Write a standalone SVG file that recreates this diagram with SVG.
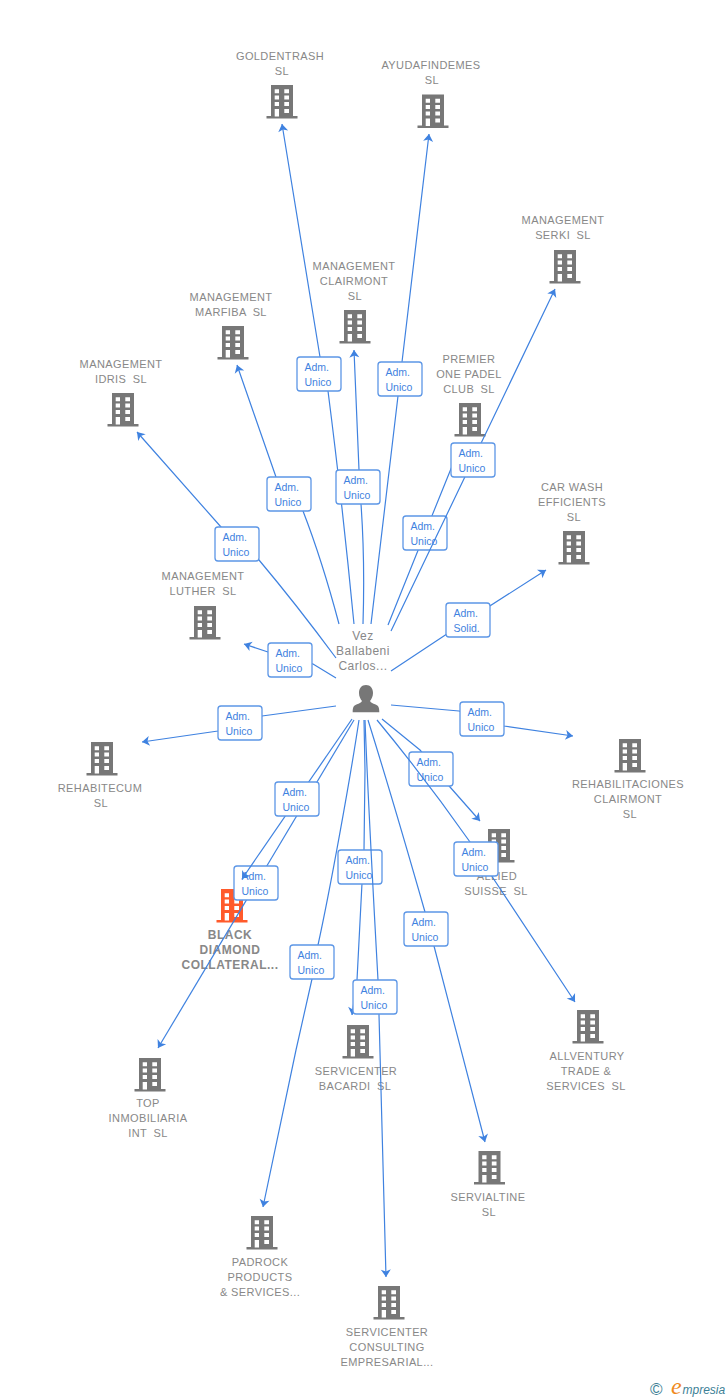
<svg xmlns="http://www.w3.org/2000/svg" width="728" height="1400" viewBox="0 0 728 1400">
<style>
text{font-family:"Liberation Sans",Arial,sans-serif}
.n{font-size:11px;fill:#888;text-anchor:middle;letter-spacing:.4px}
.d{word-spacing:3px}
.c{font-size:12px;fill:#888;text-anchor:middle;letter-spacing:.5px}
.b{font-size:12px;font-weight:bold;fill:#888;text-anchor:middle;letter-spacing:.5px}
.e{fill:none;stroke:#3f82e0;stroke-width:1.2;stroke-linejoin:round;marker-end:url(#a)}
.l rect{fill:#fff;stroke:#5c96e6;stroke-width:1.3}
.l text{font-size:10.5px;fill:#3f82e0}
.w{fill:#fff}
</style>
<defs>
<marker id="a" markerUnits="userSpaceOnUse" markerWidth="12" markerHeight="12" refX="11" refY="6" orient="auto" viewBox="0 0 12 12"><path d="M11,6 L3.500,1 L5.500,6 L3.500,11Z" fill="#3f82e0"/></marker>
<symbol id="bd" overflow="visible" viewBox="-16 0 32 34" width="32" height="34">
<path fill="currentColor" d="M-11,0H11V31H15.500V33.500H-15.500V31H-11Z"/>
<path class="w" d="M-7.300,4.300h4.300v4h-4.300zM2.300,4.300h4.700v4h-4.700zM-7.300,10.600h4.300v4h-4.300zM2.300,10.600h4.700v4h-4.700zM-7.300,17h4.300v4h-4.300zM2.300,17h4.700v4h-4.700zM-7.300,24h4.300v7.500h-4.300zM2.300,24h4.700v4h-4.700z"/>
</symbol>
</defs>
<rect width="728" height="1400" fill="#fff"/>
<g id="nodes" color="#777">
<g id="n-goldentrash"><use href="#bd" x="266" y="85"/><text class="n" x="280" y="60">GOLDENTRASH</text><text class="n" x="282" y="75">SL</text></g>
<g id="n-ayudafindemes"><use href="#bd" x="417" y="94.500"/><text class="n" x="431" y="69">AYUDAFINDEMES</text><text class="n" x="432" y="84">SL</text></g>
<g id="n-serki"><use href="#bd" x="549" y="250"/><text class="n" x="563" y="224">MANAGEMENT</text><text class="n d" x="563" y="239">SERKI SL</text></g>
<g id="n-clairmont"><use href="#bd" x="339" y="310"/><text class="n" x="354" y="270">MANAGEMENT</text><text class="n" x="354" y="285">CLAIRMONT</text><text class="n" x="355" y="300">SL</text></g>
<g id="n-marfiba"><use href="#bd" x="217" y="326"/><text class="n" x="231" y="301">MANAGEMENT</text><text class="n d" x="231" y="316">MARFIBA SL</text></g>
<g id="n-idris"><use href="#bd" x="107" y="393"/><text class="n" x="121" y="368">MANAGEMENT</text><text class="n d" x="121" y="383">IDRIS SL</text></g>
<g id="n-premier"><use href="#bd" x="454" y="403"/><text class="n" x="469" y="363">PREMIER</text><text class="n" x="469" y="378">ONE PADEL</text><text class="n d" x="469" y="393">CLUB SL</text></g>
<g id="n-carwash"><use href="#bd" x="558" y="531"/><text class="n" x="572" y="491">CAR WASH</text><text class="n" x="572" y="506">EFFICIENTS</text><text class="n" x="574" y="521">SL</text></g>
<g id="n-luther"><use href="#bd" x="189" y="606"/><text class="n" x="203" y="580">MANAGEMENT</text><text class="n d" x="203" y="595">LUTHER SL</text></g>
<g id="n-rehabitecum"><use href="#bd" x="86" y="742"/><text class="n" x="100" y="792">REHABITECUM</text><text class="n" x="101" y="807">SL</text></g>
<g id="n-rehabilitaciones"><use href="#bd" x="614" y="739"/><text class="n" x="628" y="788">REHABILITACIONES</text><text class="n" x="628" y="803">CLAIRMONT</text><text class="n" x="630" y="818">SL</text></g>
<g id="n-allied"><use href="#bd" x="483" y="829"/><text class="n" x="497" y="880">ALLIED</text><text class="n d" x="496" y="895">SUISSE SL</text></g>
<g id="n-black" color="#ff5a2b"><use href="#bd" x="216" y="889"/><text class="b" x="230" y="939">BLACK</text><text class="b" x="230" y="954">DIAMOND</text><text class="b" x="230" y="969">COLLATERAL...</text></g>
<g id="n-allventury"><use href="#bd" x="572" y="1010"/><text class="n" x="587" y="1060">ALLVENTURY</text><text class="n" x="586" y="1075">TRADE &amp;</text><text class="n d" x="586" y="1090">SERVICES SL</text></g>
<g id="n-top"><use href="#bd" x="134" y="1058"/><text class="n" x="148" y="1107">TOP</text><text class="n" x="148" y="1122">INMOBILIARIA</text><text class="n d" x="148" y="1137">INT SL</text></g>
<g id="n-bacardi"><use href="#bd" x="342" y="1025"/><text class="n" x="356" y="1075">SERVICENTER</text><text class="n d" x="355" y="1090">BACARDI SL</text></g>
<g id="n-servialtine"><use href="#bd" x="473.500" y="1151"/><text class="n" x="488" y="1201">SERVIALTINE</text><text class="n" x="489" y="1216">SL</text></g>
<g id="n-padrock"><use href="#bd" x="246" y="1216"/><text class="n" x="260" y="1266">PADROCK</text><text class="n" x="260" y="1281">PRODUCTS</text><text class="n" x="260" y="1296">&amp; SERVICES...</text></g>
<g id="n-consulting"><use href="#bd" x="373" y="1286"/><text class="n" x="387" y="1336">SERVICENTER</text><text class="n" x="387" y="1351">CONSULTING</text><text class="n" x="387" y="1366">EMPRESARIAL...</text></g>
<g id="n-person"><path fill="#777" d="M366,685c4.500,0 7,3.500 7,8c0,3.500 -1.500,6 -3,8c1,2 3,2.500 5,3.300c3,1 4.300,2.500 4.300,8H352.700c0,-5.500 1.300,-7 4.300,-8c2,-.8 4,-1.300 5,-3.300c-1.500,-2 -3,-4.500 -3,-8c0,-4.500 2.500,-8 7,-8Z"/><text class="c" x="363" y="640">Vez</text><text class="c" x="363" y="655">Ballabeni</text><text class="c" x="363" y="670">Carlos...</text></g>
</g>
<g id="connectors">
<path class="e" d="M354,624Q342,500 328,391L320,357L282,124"/>
<g class="l"><rect x="297" y="357" width="44" height="34" rx="3"/><text x="304.500" y="371">Adm.</text><text x="304.500" y="386">Unico</text></g>
<path class="e" d="M371,624L398,396L402,362L429,134"/>
<g class="l"><rect x="378" y="362" width="44" height="34" rx="3"/><text x="385.500" y="376">Adm.</text><text x="385.500" y="391">Unico</text></g>
<path class="e" d="M339,624Q322,560 303,511L276,477L237,365"/>
<g class="l"><rect x="267" y="477" width="44" height="34" rx="3"/><text x="274.500" y="491">Adm.</text><text x="274.500" y="506">Unico</text></g>
<path class="e" d="M363,624Q365,560 361,504L359,470L354,350"/>
<g class="l"><rect x="336" y="470" width="44" height="34" rx="3"/><text x="343.500" y="484">Adm.</text><text x="343.500" y="499">Unico</text></g>
<path class="e" d="M388,625L425,533L461,444"/>
<g class="l"><rect x="403" y="516" width="44" height="34" rx="3"/><text x="410.500" y="530">Adm.</text><text x="410.500" y="545">Unico</text></g>
<path class="e" d="M391,631L473,460L555,289"/>
<g class="l"><rect x="451" y="443" width="44" height="34" rx="3"/><text x="458.500" y="457">Adm.</text><text x="458.500" y="472">Unico</text></g>
<path class="e" d="M391,671L468,620L546,570"/>
<g class="l"><rect x="446" y="603" width="44" height="34" rx="3"/><text x="453.500" y="617">Adm.</text><text x="453.500" y="632">Solid.</text></g>
<path class="e" d="M336,658Q296,604 259,560L221,527L137,432"/>
<g class="l"><rect x="215" y="527" width="44" height="34" rx="3"/><text x="222.500" y="541">Adm.</text><text x="222.500" y="556">Unico</text></g>
<path class="e" d="M336,678L313,664L268,652L244,644"/>
<g class="l"><rect x="268" y="643" width="44" height="34" rx="3"/><text x="275.500" y="657">Adm.</text><text x="275.500" y="672">Unico</text></g>
<path class="e" d="M336,706L262,716L218,731L142,742"/>
<g class="l"><rect x="218" y="706" width="44" height="34" rx="3"/><text x="225.500" y="720">Adm.</text><text x="225.500" y="735">Unico</text></g>
<path class="e" d="M391,705L459,711L504,726L573,736"/>
<g class="l"><rect x="460" y="702" width="44" height="34" rx="3"/><text x="467.500" y="716">Adm.</text><text x="467.500" y="731">Unico</text></g>
<path class="e" d="M354,720L158,1048"/>
<g class="l"><rect x="234" y="866" width="44" height="34" rx="3"/><text x="241.500" y="880">Adm.</text><text x="241.500" y="895">Unico</text></g>
<path class="e" d="M352,719L242,879"/>
<g class="l"><rect x="275" y="782" width="44" height="34" rx="3"/><text x="282.500" y="796">Adm.</text><text x="282.500" y="811">Unico</text></g>
<path class="e" d="M364,720L365,770L364,850L362,883L357,980L352,1015"/>
<g class="l"><rect x="338" y="850" width="44" height="34" rx="3"/><text x="345.500" y="864">Adm.</text><text x="345.500" y="879">Unico</text></g>
<path class="e" d="M365,720Q368,800 378,980L379,1015L386,1277"/>
<g class="l"><rect x="353" y="980" width="44" height="34" rx="3"/><text x="360.500" y="994">Adm.</text><text x="360.500" y="1009">Unico</text></g>
<path class="e" d="M359,720C350,780 330,890 318,945L312,979L296,1050L263,1207"/>
<g class="l"><rect x="290" y="945" width="44" height="34" rx="3"/><text x="297.500" y="959">Adm.</text><text x="297.500" y="974">Unico</text></g>
<path class="e" d="M368,720Q393,800 425,912L434,946L485,1142"/>
<g class="l"><rect x="404" y="912" width="44" height="34" rx="3"/><text x="411.500" y="926">Adm.</text><text x="411.500" y="941">Unico</text></g>
<path class="e" d="M382,719L420,750L450,787L480,821"/>
<g class="l"><rect x="409" y="752" width="44" height="34" rx="3"/><text x="416.500" y="766">Adm.</text><text x="416.500" y="781">Unico</text></g>
<path class="e" d="M377,720Q425,778 470,842L493,878L575,1002"/>
<g class="l"><rect x="454" y="842" width="44" height="34" rx="3"/><text x="461.500" y="856">Adm.</text><text x="461.500" y="871">Unico</text></g>
</g>
<g id="logo">
<text x="650" y="1395" font-size="17" fill="#3d7f96">©</text>
<text x="671" y="1394" font-size="24" font-style="italic" fill="#f08a1d" style="font-family:'Liberation Serif',serif">e</text>
<text x="682.500" y="1394" font-size="12" font-style="italic" fill="#3d7f96">mpresia</text>
</g>
</svg>
